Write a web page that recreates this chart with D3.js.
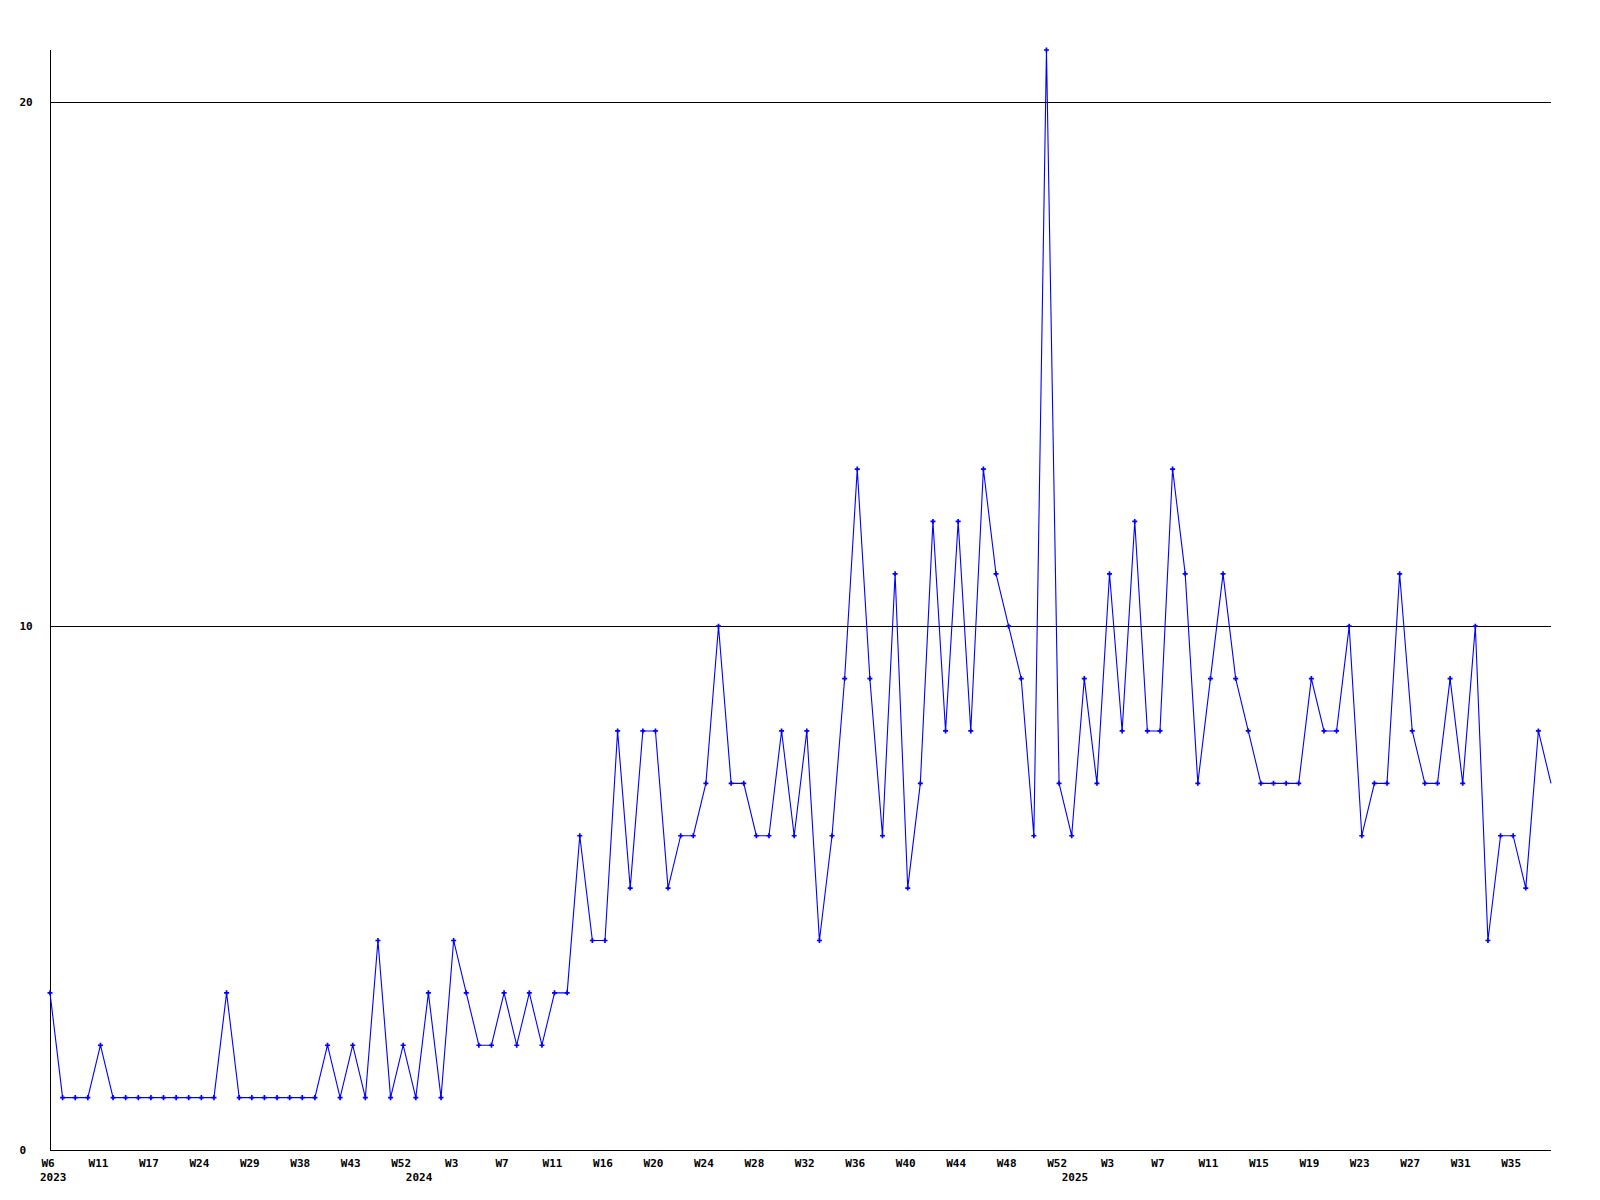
<!DOCTYPE html>
<html>
<head>
<meta charset="utf-8">
<script src="https://cdn.jsdelivr.net/npm/d3@7"></script>
<style>
  html, body { margin: 0; padding: 0; background: #ffffff; }
  svg { display: block; }
  text { font-family: "DejaVu Sans Mono", "Liberation Mono", monospace; font-weight: bold; font-size: 11px; fill: #000; }
</style>
</head>
<body>
<svg id="chart" width="1600" height="1200"></svg>
<script>
// ---- data ----
const values = [
  3,1,1,1,2,1,1,1,1,1,
  1,1,1,1,3,1,1,1,1,1,
  1,1,2,1,2,1,4,1,2,1,
  3,1,4,3,2,2,3,2,3,2,
  3,3,6,4,4,8,5,8,8,5,
  6,6,7,10,7,7,6,6,8,6,
  8,4,6,9,13,9,6,11,5,7,
  12,8,12,8,13,11,10,9,6,21,
  7,6,9,7,11,8,12,8,8,13,
  11,7,9,11,9,8,7,7,7,7,
  9,8,8,10,6,7,7,11,8,7,
  7,9,7,10,4,6,6,5,8,7
];
const tickLabels = ["W6","W11","W17","W24","W29","W38","W43","W52",
  "W3","W7","W11","W16","W20","W24","W28","W32","W36","W40","W44","W48","W52",
  "W3","W7","W11","W15","W19","W23","W27","W31","W35"];
const tickEvery = 4;
const yearLabels = ["2023","2024","2025"];
const yearIndex = [0, 29, 81];
const yTicks = [0, 10, 20];
const yMax = 21;

(function () {
  // ---- layout ----
  const mLeft = 50, mRight = 1551, mTop = 50, mBottom = 1150;
  const svg = d3.select("#chart");

  const x = d3.scaleLinear().domain([0, values.length - 1]).range([mLeft, mRight]);
  const y = d3.scaleLinear().domain([0, yMax]).range([mBottom, mTop]);

  // grid lines
  svg.append("g").selectAll("line").data(yTicks.filter(d => d > 0)).join("line")
    .attr("x1", mLeft).attr("x2", mRight)
    .attr("y1", d => Math.round(y(d)) + 0.5).attr("y2", d => Math.round(y(d)) + 0.5)
    .attr("stroke", "#000").attr("stroke-width", 1).attr("shape-rendering", "crispEdges");

  // axis lines
  svg.append("line").attr("x1", mLeft + 0.5).attr("x2", mLeft + 0.5).attr("y1", mTop).attr("y2", mBottom + 0.5)
    .attr("stroke", "#000").attr("shape-rendering", "crispEdges");
  svg.append("line").attr("x1", mLeft).attr("x2", mRight).attr("y1", mBottom + 0.5).attr("y2", mBottom + 0.5)
    .attr("stroke", "#000").attr("shape-rendering", "crispEdges");

  // x axis labels
  const xAxis = d3.axisBottom(x)
    .tickValues(d3.range(0, values.length, tickEvery).slice(0, tickLabels.length))
    .tickFormat(i => tickLabels[i / tickEvery])
    .tickSize(0).tickPadding(9);
  const gx = svg.append("g").attr("transform", `translate(0,${mBottom})`).call(xAxis);
  gx.select(".domain").remove();
  gx.selectAll("text").attr("font-family", null).attr("font-size", null).attr("dx", -2.5);

  // year labels
  svg.append("g").selectAll("text").data(yearLabels).join("text")
    .attr("x", (d, i) => x(yearIndex[i]) - 10)
    .attr("y", mBottom + 31)
    .attr("text-anchor", "start")
    .text(d => d);

  // y axis labels
  const yAxis = d3.axisLeft(y).tickValues(yTicks).tickFormat(d3.format("d")).tickSize(0);
  const gy = svg.append("g").attr("transform", `translate(${mLeft},0)`).call(yAxis);
  gy.select(".domain").remove();
  gy.selectAll("text").attr("font-family", null).attr("font-size", null)
    .attr("text-anchor", "start").attr("x", 19.5 - mLeft).attr("dy", "0.32em");

  // line
  const line = d3.line().x((d, i) => x(i)).y(d => y(d));
  svg.append("path").datum(values)
    .attr("d", line)
    .attr("fill", "none").attr("stroke", "#0000ff").attr("stroke-width", 1.1);

  // markers
  svg.append("g").selectAll("path").data(values.slice(0, values.length - 1)).join("path")
    .attr("transform", (d, i) => `translate(${x(i)},${y(d)})`)
    .attr("d", d3.symbol().type(d3.symbolCross).size(14))
    .attr("fill", "#0000ff");
})();
</script>
</body>
</html>
